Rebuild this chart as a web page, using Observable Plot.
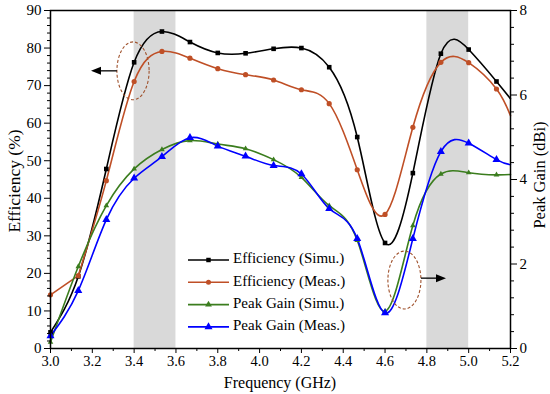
<!DOCTYPE html>
<html>
<head>
<meta charset="utf-8">
<script src="https://cdn.jsdelivr.net/npm/d3@7"></script>
<script src="https://cdn.jsdelivr.net/npm/@observablehq/plot@0.6"></script>
<style>
  html, body { margin: 0; padding: 0; background: #fff; }
  #chart svg { display: block; }
  #chart svg, #chart svg text, #chart svg g { font-family: 'Liberation Serif', serif !important; }
</style>
</head>
<body>
<div id="chart"></div>
<script>
// ---- Data ----
const freq      = [3.0, 3.133, 3.267, 3.4, 3.533, 3.667, 3.8, 3.933, 4.067, 4.2, 4.333, 4.467, 4.6, 4.733, 4.867, 5.0, 5.133, 5.2];
const effSimu   = [4.3, 19.2, 47.8, 76.2, 84.4, 81.6, 78.7, 78.6, 79.8, 80.0, 74.9, 56.3, 28.1, 46.7, 78.5, 79.6, 71.1, 66.5];
const effMeas   = [14.3, 19.4, 44.7, 71.1, 79.1, 77.3, 74.5, 72.9, 71.5, 68.9, 65.2, 47.6, 35.7, 58.9, 76.2, 76.1, 69.1, 62.0];
const gainSimu  = [0.15, 1.94, 3.38, 4.25, 4.71, 4.92, 4.84, 4.73, 4.47, 4.05, 3.38, 2.56, 0.88, 2.91, 4.13, 4.16, 4.11, 4.12];
const gainMeas  = [0.3, 1.37, 3.05, 4.03, 4.54, 4.99, 4.79, 4.55, 4.33, 4.13, 3.31, 2.60, 0.84, 2.60, 4.66, 4.86, 4.47, 4.35];

const seriesNames = ["Efficiency (Simu.)", "Efficiency (Meas.)", "Peak Gain (Simu.)", "Peak Gain (Meas.)"];
const bands = [[3.4, 3.6], [4.8, 5.0]];

const xTicks    = [3.0, 3.2, 3.4, 3.6, 3.8, 4.0, 4.2, 4.4, 4.6, 4.8, 5.0, 5.2];
const effTicks  = [0, 10, 20, 30, 40, 50, 60, 70, 80, 90];
const gainTicks = [0, 2, 4, 6, 8];

// ---- Build tables ----
const GAIN_MAX = 8, EFF_MAX = 90, k = EFF_MAX / GAIN_MAX;
const colors  = ["#000000", "#bf4f26", "#3b7d1e", "#0000ff"];
const symbols = ["square", "circle", "triangle", "triangle"];
const radii   = [2.6, 2.6, 2.1, 3.0];
const values  = [effSimu, effMeas, gainSimu.map(g => g * k), gainMeas.map(g => g * k)];

const rows = [];
values.forEach((arr, s) => arr.forEach((v, i) => rows.push({s, i, f: freq[i], y: v, marker: freq[i] < 5.19})));
const bandRows = bands.map(([a, b]) => ({a, b}));

const font = "'Liberation Serif', serif";

const marks = [
  Plot.rect(bandRows, {x1: "a", x2: "b", y1: 0, y2: EFF_MAX, fill: "#d9d9d9"}),
];
for (let s = 0; s < 4; s++) {
  const data = rows.filter(r => r.s === s);
  if (s === 1) {
    marks.push(Plot.line(data.filter(r => r.i <= 1), {x: "f", y: "y", stroke: colors[s], strokeWidth: 1.6}));
    marks.push(Plot.line(data.filter(r => r.i >= 1), {x: "f", y: "y", stroke: colors[s], strokeWidth: 1.6, curve: "natural"}));
  } else {
    marks.push(Plot.line(data, {x: "f", y: "y", stroke: colors[s], strokeWidth: 1.6, curve: "natural"}));
  }
}
for (let s = 0; s < 4; s++) {
  const data = rows.filter(r => r.s === s && r.marker);
  marks.push(Plot.dot(data, {x: "f", y: "y", symbol: symbols[s], r: radii[s], fill: colors[s], stroke: "none"}));
}
marks.push(
  Plot.axisX({ticks: xTicks, tickFormat: d3.format(".1f"), tickSize: 5, tickPadding: 2, label: null, fontSize: 14.5}),
  Plot.axisX({ticks: d3.range(3.1, 5.2, 0.2), tickFormat: null, tickSize: 3, label: null, text: null}),
  Plot.axisY({ticks: effTicks, tickSize: 6, tickPadding: 3, label: null, fontSize: 15}),
  Plot.axisY({ticks: d3.range(0, 90.1, 2).filter(v => v % 10 !== 0), tickSize: 3, label: null, text: null}),
  Plot.axisY({anchor: "right", ticks: gainTicks.map(g => g * k), tickFormat: d => String(Math.round(d / k)), tickSize: 6, tickPadding: 3, label: null, fontSize: 15}),
  Plot.axisY({anchor: "right", ticks: d3.range(0, 8.01, 0.4).map(g => +(g * k).toFixed(4)).filter(v => Math.abs((v / k) % 2) > 0.01 && Math.abs((v / k) % 2 - 2) > 0.01), tickSize: 3, label: null, text: null}),
  Plot.frame({stroke: "#000", strokeWidth: 1.5})
);

const chart = Plot.plot({
  width: 550, height: 394,
  marginLeft: 50, marginRight: 40, marginTop: 10, marginBottom: 46,
  x: {domain: [3.0, 5.2]},
  y: {domain: [0, EFF_MAX]},
  style: {fontFamily: font, fontSize: "15px", color: "#000", background: "#fff"},
  marks
});
document.getElementById("chart").appendChild(chart);
d3.select(chart).selectAll("text").attr("font-family", "Liberation Serif").style("font-family", font);

// ---- Annotations ----
const xs = chart.scale("x"), ys = chart.scale("y");
const X = v => xs.apply(v), Y = v => ys.apply(v);
const svg = d3.select(chart);
const g = svg.append("g").attr("text-anchor", "start").attr("font-family", "Liberation Serif");

function ellipse(cx, cy, rxGHz, ryEff) {
  g.append("ellipse")
    .attr("cx", X(cx)).attr("cy", Y(cy))
    .attr("rx", Math.abs(X(cx + rxGHz) - X(cx)))
    .attr("ry", Math.abs(Y(cy + ryEff) - Y(cy)))
    .attr("fill", "none").attr("stroke", "#a0522d").attr("stroke-width", 1.1)
    .attr("stroke-dasharray", "3,2");
}
function arrow(f1, f2, e) {
  const x1 = X(f1), x2 = X(f2), y = Y(e);
  const dir = Math.sign(x2 - x1);
  g.append("line").attr("x1", x1).attr("x2", x2 - dir * 8).attr("y1", y).attr("y2", y)
    .attr("stroke", "#000").attr("stroke-width", 1.3);
  g.append("path").attr("d", `M${x2},${y} L${x2 - dir * 10},${y - 4} L${x2 - dir * 10},${y + 4} Z`).attr("fill", "#000");
}
ellipse(3.397, 73.8, 0.077, 7.7);
arrow(3.32, 3.196, 73.8);
ellipse(4.695, 18.1, 0.079, 7.7);
arrow(4.774, 4.894, 18.6);

function label(t) {
  return t.attr("font-family", "Liberation Serif").style("font-family", font);
}
label(g.append("text").attr("transform", `translate(16,181) rotate(-90)`)
  .attr("text-anchor", "middle").attr("dominant-baseline", "middle")
  .style("font-size", "17.5px").text("Efficiency (%)"));
label(g.append("text").attr("transform", `translate(541,175) rotate(-90)`)
  .attr("text-anchor", "middle").attr("dominant-baseline", "middle")
  .style("font-size", "16.5px").text("Peak Gain (dBi)"));
label(g.append("text").attr("x", 280).attr("y", 388)
  .attr("text-anchor", "middle")
  .style("font-size", "16px").text("Frequency (GHz)"));

const lx0 = 188, lx1 = 229, ly0 = 260, ldy = 22.3;
seriesNames.forEach((name, s) => {
  const y = ly0 + s * ldy;
  g.append("line").attr("x1", lx0).attr("x2", lx1).attr("y1", y).attr("y2", y)
    .attr("stroke", colors[s]).attr("stroke-width", 1.6);
  g.append("path").attr("transform", `translate(${(lx0 + lx1) / 2},${y})`)
    .attr("d", d3.symbol(s === 0 ? d3.symbolSquare : s === 1 ? d3.symbolCircle : d3.symbolTriangle, s === 3 ? 28 : 20)())
    .attr("fill", colors[s]);
  label(g.append("text").attr("x", lx1 + 4).attr("y", y).attr("dominant-baseline", "middle")
    .attr("text-anchor", "start")
    .style("font-size", "15px").text(name));
});
</script>
</body>
</html>
